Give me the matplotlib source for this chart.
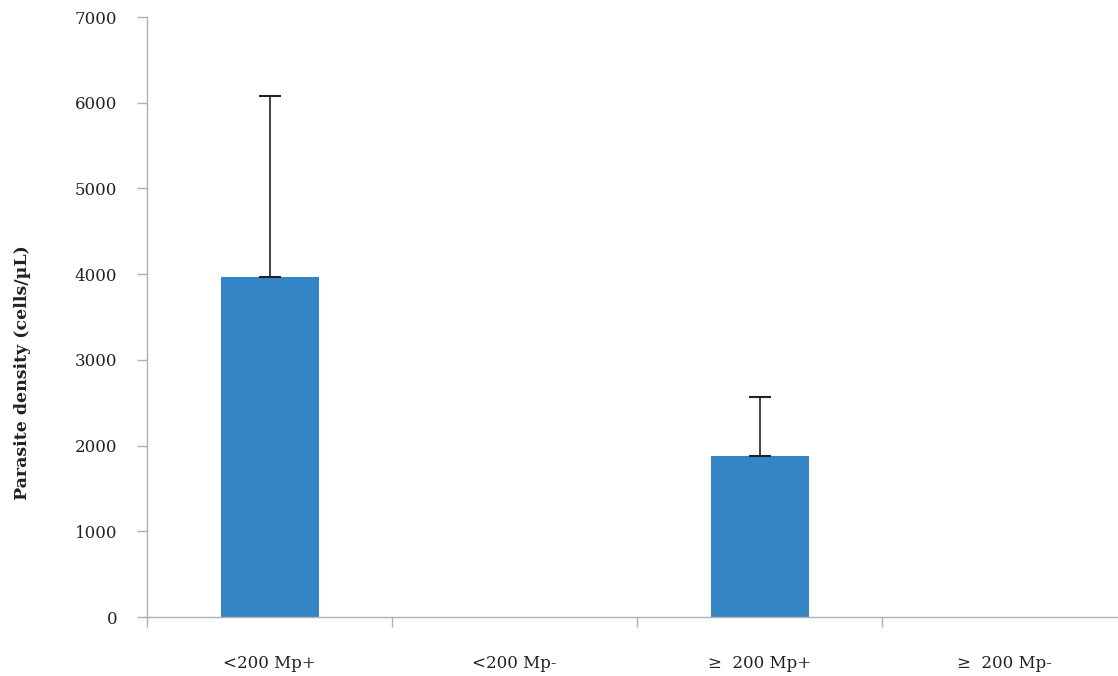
import matplotlib.pyplot as plt

# datos del grafico
categories = ['<200 Mp+', '<200 Mp-', '\u2265  200 Mp+', '\u2265  200 Mp-']
values = [3970, 0, 1880, 0]
err_upper = [2110, 0, 690, 0]
bar_idx = [0, 2]

plt.rcParams['font.family'] = ['DejaVu Serif']

fig = plt.figure(figsize=(11.18, 6.76), dpi=100)
ax = fig.add_axes([147 / 1118, 1 - 617 / 676, 1 - 147 / 1118, 600 / 676])

xs = [i for i in bar_idx]
ys = [values[i] for i in bar_idx]
errs = [[0 for _ in bar_idx], [err_upper[i] for i in bar_idx]]
ax.bar(xs, ys, width=0.4, color='#3385c6', zorder=2)
ax.errorbar(xs, ys, yerr=errs, fmt='none', ecolor='#222222', elinewidth=1.2,
            capsize=8, capthick=1.5, zorder=3)

ax.set_ylim(0, 7000)
ax.set_xlim(-0.5, (1118 - 147) / 245 - 0.5)
ax.set_yticks(range(0, 7001, 1000))
ax.set_xticks(range(len(categories)))
ax.set_xticklabels(categories, fontsize=12, color='#222222')
ax.set_xticks([-0.5, 0.5, 1.5, 2.5], minor=True)
ax.tick_params(axis='x', which='major', length=0, pad=27)
ax.tick_params(axis='x', which='minor', length=7.5, color='#b0b0b0', width=1)
ax.tick_params(axis='y', length=7.5, color='#b0b0b0', width=1, labelsize=12,
               labelcolor='#222222', pad=14)

for s in ['top', 'right']:
    ax.spines[s].set_visible(False)
for s in ['left', 'bottom']:
    ax.spines[s].set_color('#b0b0b0')
    ax.spines[s].set_linewidth(1)

ax.set_ylabel('Parasite density (cells/\u00b5L)', fontsize=12.5, fontweight='bold',
              color='#222222')
ax.yaxis.set_label_coords(-0.1195, 0.408)

fig.savefig('out.png', dpi=100)
